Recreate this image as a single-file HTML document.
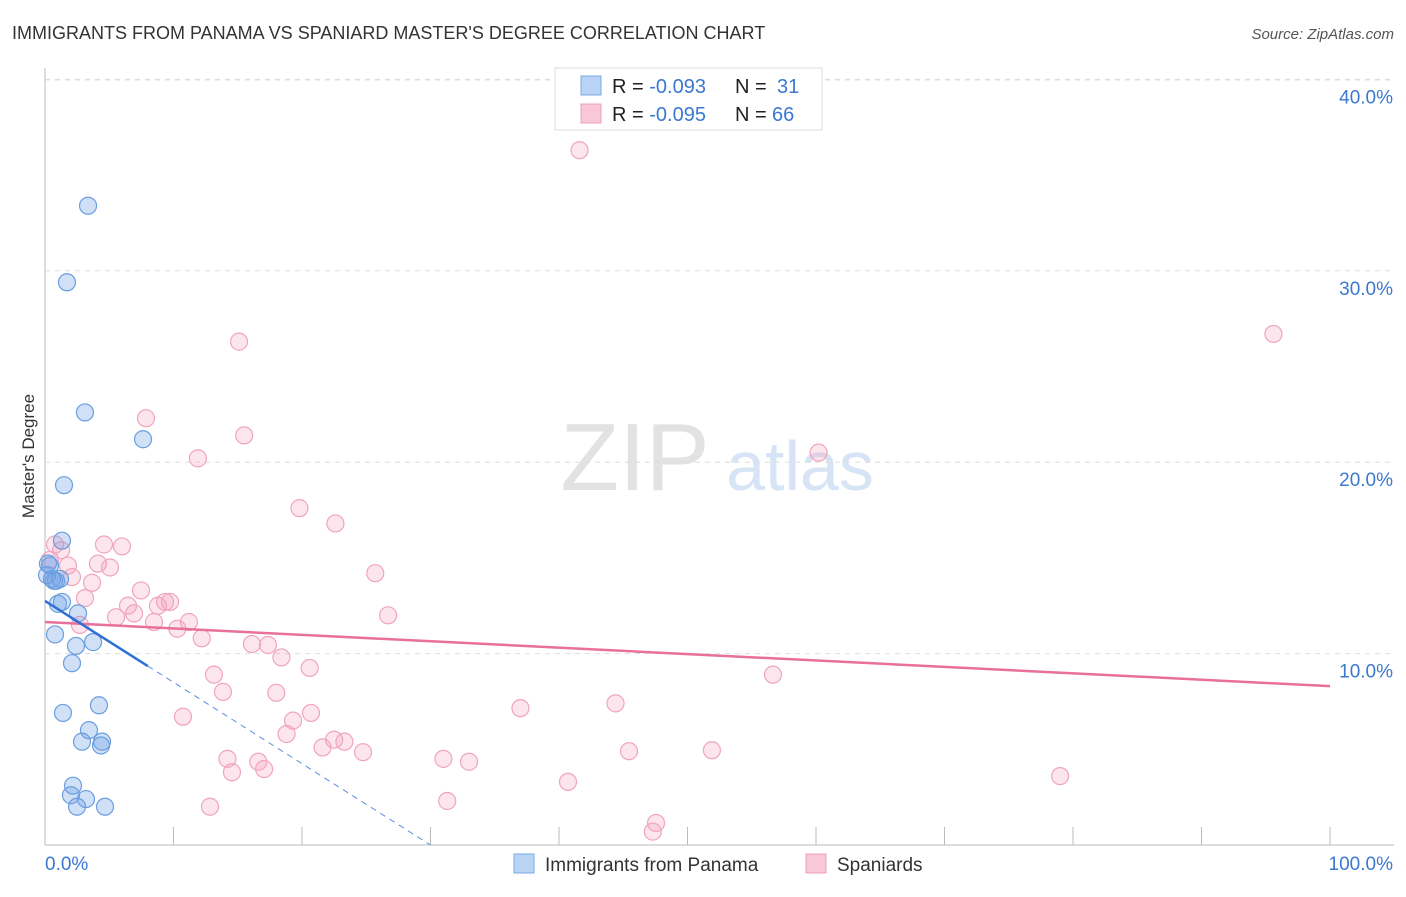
<!DOCTYPE html>
<html><head><meta charset="utf-8"><style>
body{margin:0;background:#fff;font-family:"Liberation Sans",sans-serif}
svg text{font-family:"Liberation Sans",sans-serif}
</style></head><body>
<svg id="c" width="1406" height="892">
<text x="12" y="39" font-size="18" fill="#333">IMMIGRANTS FROM PANAMA VS SPANIARD MASTER'S DEGREE CORRELATION CHART</text>
<text x="1394" y="39" font-size="15" fill="#555" font-style="italic" text-anchor="end">Source: ZipAtlas.com</text>
<text x="34" y="456" font-size="17" fill="#333" text-anchor="middle" transform="rotate(-90 34 456)">Master's Degree</text>
<g><text x="635" y="490" font-size="96" fill="#e2e2e2" font-family="Liberation Serif" text-anchor="middle">ZIP</text><text x="800" y="490" font-size="70" fill="#d6e4f5" text-anchor="middle">atlas</text></g>
<g id="grid"></g><g id="pts"></g><g id="lines"></g>
<g>
<rect x="555" y="68" width="267" height="62" fill="#fff" stroke="#ddd"/>
<rect x="581" y="76" width="20" height="19" fill="#b9d3f5" stroke="#7aa8e6"/>
<rect x="581" y="104" width="20" height="19" fill="#f9c8d8" stroke="#eea0b8"/>
<text x="612" y="93" font-size="20" fill="#222">R = <tspan fill="#3b78d0">-0.093</tspan></text>
<text x="735" y="93" font-size="20" fill="#222">N =</text>
<text x="777" y="93" font-size="20" fill="#3b78d0">31</text>
<text x="612" y="121" font-size="20" fill="#222">R = <tspan fill="#3b78d0">-0.095</tspan></text>
<text x="735" y="121" font-size="20" fill="#222">N =</text>
<text x="772" y="121" font-size="20" fill="#3b78d0">66</text>
</g>
<g>
<rect x="514" y="854" width="20" height="19" fill="#b9d3f5" stroke="#7aa8e6"/>
<text x="545" y="871" font-size="19" fill="#333">Immigrants from Panama</text>
<rect x="806" y="854" width="20" height="19" fill="#f9c8d8" stroke="#eea0b8"/>
<text x="837" y="871" font-size="19" fill="#333">Spaniards</text>
</g>
</svg>
<script>
const yTicks=[10,20,30,40];
const xLabels=["0.0%","100.0%"];
const panamaX=[3.35,1.71,3.11,7.63,1.48,1.32,0.23,0.54,0.86,1.01,1.32,2.57,0.78,2.41,3.74,2.10,4.20,1.40,3.42,2.88,4.44,4.36,2.18,2.02,3.19,2.49,4.67,0.39,0.16,0.70,1.17];
const panamaY=[33.4,29.4,22.6,21.2,18.8,15.9,14.7,13.9,13.8,12.6,12.7,12.1,11.0,10.4,10.6,9.5,7.3,6.9,6.0,5.4,5.4,5.2,3.1,2.6,2.4,2.0,2.0,14.6,14.1,13.8,13.9];
const spainX=[41.6,95.6,15.1,7.86,15.5,11.9,60.2,19.8,22.6,0.78,1.25,4.59,5.99,4.12,5.06,1.79,2.10,3.66,25.7,7.47,3.11,6.46,9.34,9.73,8.79,5.53,6.93,11.2,8.48,10.3,26.7,12.2,2.72,16.1,17.35,18.4,20.6,13.15,56.65,13.85,18.0,10.74,37.0,44.4,20.7,19.3,18.8,22.5,23.3,21.6,24.75,45.45,51.9,14.2,31.0,33.0,16.6,17.05,14.55,40.7,79.0,31.3,12.84,47.55,47.3,0.39];
const spainY=[36.3,26.7,26.3,22.3,21.4,20.2,20.5,17.6,16.8,15.7,15.4,15.7,15.6,14.7,14.5,14.6,14.0,13.7,14.2,13.3,12.9,12.5,12.7,12.7,12.5,11.9,12.1,11.65,11.65,11.3,12.0,10.8,11.5,10.5,10.45,9.8,9.25,8.9,8.9,8.0,7.95,6.7,7.15,7.4,6.9,6.5,5.8,5.5,5.4,5.1,4.85,4.9,4.95,4.5,4.5,4.35,4.35,3.97,3.8,3.3,3.6,2.3,2.0,1.15,0.7,14.9];
const panamaTrend=[12.75,9.35,0];const panamaTrendX=[0,8,30];
const spainTrend=[11.65,8.3];
const NS='http://www.w3.org/2000/svg';
const X=v=>45+v*12.85, Y=v=>845-v*19.14;
function mk(t,a,p){const e=document.createElementNS(NS,t);for(const k in a)e.setAttribute(k,a[k]);p.appendChild(e);return e;}
const g=document.getElementById('grid');
let ax=mk('line',{x1:45,y1:68,x2:45,y2:845,stroke:'#bbb'},g);


let bx=mk('line',{x1:45,y1:845,x2:1394,y2:845,stroke:'#bbb'},g);


mk('line',{x1:45,y1:80,x2:1394,y2:80,stroke:'#ddd','stroke-dasharray':'5,5'},g);
yTicks.forEach(t=>{
 const l=mk('line',{x1:45,y1:Y(t),x2:1394,y2:Y(t),stroke:'#ddd','stroke-dasharray':'5,5'},g);
 
 
 const tx=mk('text',{x:1393,y:Y(t)+24,'font-size':19,fill:'#3b78d0','text-anchor':'end'},g);tx.textContent=t.toFixed(1)+'%';
 
 
});
for(let i=1;i<=10;i++){const l=mk('line',{x1:X(i*10),y1:827,x2:X(i*10),y2:845,stroke:'#bbb'},g);
 
 }
[[0,'start',45],[100,'end',1393]].forEach((d,i)=>{const t=mk('text',{x:d[2],y:870,'font-size':19,fill:'#3b78d0','text-anchor':d[1]},g);t.textContent=xLabels[i];
 
 });
const p=document.getElementById('pts');
spainX.forEach((x,i)=>{const c=mk('circle',{cx:X(x),cy:Y(spainY[i]),r:8.5,fill:'rgba(244,160,188,0.28)',stroke:'#f0a5bd','stroke-width':1.2},p);
 
 });
panamaX.forEach((x,i)=>{const c=mk('circle',{cx:X(x),cy:Y(panamaY[i]),r:8.5,fill:'rgba(110,160,230,0.32)',stroke:'#6a9ee0','stroke-width':1.2},p);
 
 });
const L=document.getElementById('lines');
let a=mk('line',{x1:X(0),y1:Y(spainTrend[0]),x2:X(100),y2:Y(spainTrend[1]),stroke:'#e8709a','stroke-width':2.5},L);


let b=mk('line',{x1:X(panamaTrendX[0]),y1:Y(panamaTrend[0]),x2:X(panamaTrendX[1]),y2:Y(panamaTrend[1]),stroke:'#2f6fd6','stroke-width':2.5},L);


let d=mk('line',{x1:X(panamaTrendX[1]),y1:Y(panamaTrend[1]),x2:X(panamaTrendX[2]),y2:Y(panamaTrend[2]),stroke:'#5b8ee0','stroke-width':1,'stroke-dasharray':'6,5'},L);


</script>
</body></html>
